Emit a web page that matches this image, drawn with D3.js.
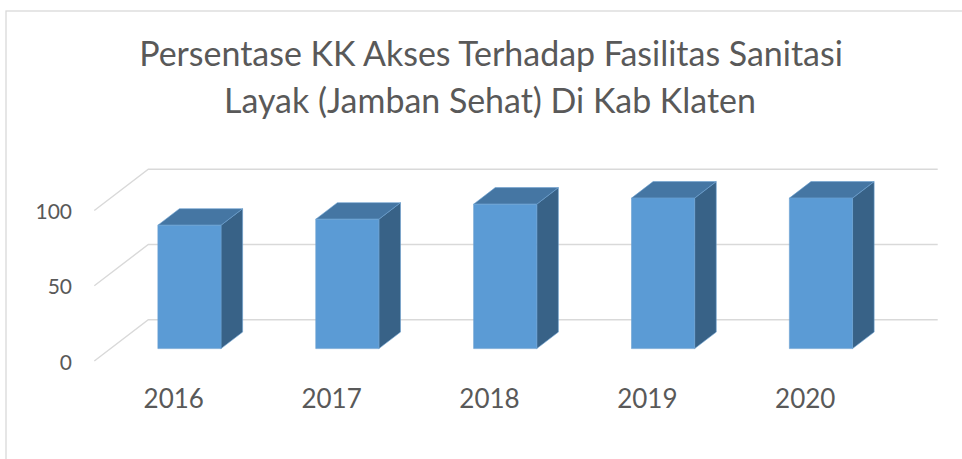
<!DOCTYPE html>
<html>
<head>
<meta charset="utf-8">
<script src="https://cdn.jsdelivr.net/npm/d3@7"></script>
<style>
  html, body { margin: 0; padding: 0; background: #fff; }
  svg { display: block; }
  text { font-family: Lato, "Open Sans", sans-serif; fill: #595959; }
</style>
</head>
<body>
<svg id="chart" width="962" height="459"></svg>
<script>
const titleLines = ["Persentase KK Akses Terhadap Fasilitas Sanitasi", "Layak (Jamban Sehat) Di Kab Klaten"];
const years = ["2016", "2017", "2018", "2019", "2020"];
const values = [82, 86, 96, 100, 100];
const yTicks = [0, 50, 100];

const W = 962, H = 459;
const svg = d3.select("#chart");

// frame
svg.append("rect").attr("x", 6).attr("y", 11).attr("width", 1000).attr("height", 500)
  .attr("fill", "none").attr("stroke", "#d9d9d9").attr("stroke-width", 1.3);

// 3D geometry
const frontX0 = 94.3, frontX1 = 883.7;
const floorY = 361;
const depthDx = 54, depthDy = -41.3;

const x = d3.scaleBand().domain(years).range([frontX0, frontX1]).paddingInner(0.6).paddingOuter(0.3);
const y = d3.scaleLinear().domain([0, 100]).range([floorY, floorY - 150.5]);
const P = (px, v, f) => [px + f * depthDx, y(v) + f * depthDy];

// gridlines: side diagonal + back wall
const grid = svg.append("g").attr("stroke", "#d9d9d9").attr("stroke-width", 1.4).attr("fill", "none");
yTicks.forEach(t => {
  const a = P(frontX0, t, 0), b = P(frontX0, t, 1), c = P(frontX1, t, 1);
  grid.append("polyline").attr("points", [a, b, c].map(p => p.join(",")).join(" "));
});

// y labels
svg.append("g").selectAll("text").data(yTicks).join("text")
  .attr("x", 72).attr("y", d => y(d) + 8.5)
  .attr("text-anchor", "end").attr("font-size", 21).text(d => d);

// bars
const f1 = 0.3, f2 = 0.7;
const bars = svg.append("g");
years.forEach((yr, i) => {
  const v = values[i];
  const xl = x(yr), xr = x(yr) + x.bandwidth();
  const g = bars.append("g");
  const poly = (pts, fill) => g.append("polygon")
    .attr("points", pts.map(p => p.join(",")).join(" "))
    .attr("fill", fill).attr("stroke", "#6a9fd0").attr("stroke-width", 0.6).attr("stroke-linejoin", "round");
  // side
  poly([P(xr, 0, f1), P(xr, 0, f2), P(xr, v, f2), P(xr, v, f1)], "#386287");
  // top
  poly([P(xl, v, f1), P(xr, v, f1), P(xr, v, f2), P(xl, v, f2)], "#4576a3");
  // front
  poly([P(xl, 0, f1), P(xr, 0, f1), P(xr, v, f1), P(xl, v, f1)], "#5b9bd5");
});

// x labels (on the front floor edge)
svg.append("g").selectAll("text").data(years).join("text")
  .attr("x", d => x(d) + x.bandwidth() / 2 + 0.5)
  .attr("y", 407.5).attr("text-anchor", "middle").attr("font-size", 26).text(d => d);

// title
const tg = svg.append("g");
const t1 = tg.append("text").attr("x", 491).attr("y", 66).attr("text-anchor", "middle").attr("font-size", 30).text(titleLines[0]);
const t2 = tg.append("text").attr("x", 490).attr("y", 112.5).attr("text-anchor", "middle").attr("font-size", 30).text(titleLines[1]);
const w1 = t1.node().getComputedTextLength();
const fs = 30 * 704 / w1;
t1.attr("font-size", fs); t2.attr("font-size", fs);
</script>
</body>
</html>
